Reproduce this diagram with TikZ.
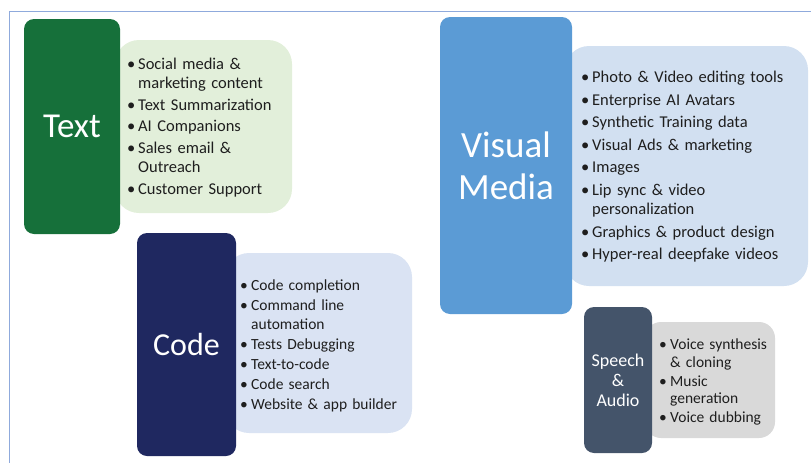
\documentclass[tikz,border=0pt]{standalone}
\usepackage{fontspec}
\setmainfont{Carlito}
\definecolor{frameblue}{RGB}{143,170,220}
\definecolor{textgreen}{RGB}{22,112,58}
\definecolor{textlight}{RGB}{226,239,218}
\definecolor{codenavy}{RGB}{31,40,96}
\definecolor{codelight}{RGB}{218,227,243}
\definecolor{visualblue}{RGB}{91,155,213}
\definecolor{visuallight}{RGB}{210,224,241}
\definecolor{speechslate}{RGB}{68,84,106}
\definecolor{speechgray}{RGB}{217,217,217}
\definecolor{itemgray}{RGB}{30,30,30}
\newcommand{\bul}{\par\noindent\hangindent=11pt\hangafter=1\makebox[11pt][l]{\textbullet}}

\begin{document}
\begin{tikzpicture}[x=1pt,y=-1pt,
  catbox/.style={rounded corners=10pt,inner sep=0pt,text=white,align=center},
  listbox/.style={rounded corners=24pt,inner sep=0pt},
  items/.style={anchor=west,inner sep=0pt,align=left,text=itemgray,
    execute at begin node={\setlength{\parskip}{#1}}}]
\useasboundingbox (0,0) rectangle (811,463);
\draw[frameblue,line width=1pt] (9.5,463)--(9.5,11.5)--(811,11.5);
% Text
\node[listbox,fill=textlight,minimum width=177pt,minimum height=173pt] (textlist) at (203.5,126.5) {};
\node[catbox,fill=textgreen,minimum width=96pt,minimum height=215pt,font=\fontsize{35}{40}\selectfont] (text) at (72,126.5) {Text};
\node[items=2pt,text width=165pt,font=\fontsize{16.5}{19.5}\selectfont] (textitems) at (127,122.5)
  {\bul Social media \&\newline marketing content
   \bul Text Summarization
   \bul AI Companions
   \bul Sales email \&\newline Outreach
   \bul Customer Support};
% Code
\node[listbox,fill=codelight,minimum width=187pt,minimum height=180pt] (codelist) at (318.5,343) {};
\node[catbox,fill=codenavy,minimum width=99pt,minimum height=223pt,font=\fontsize{32}{38}\selectfont] (code) at (186.5,344.5) {Code};
\node[items=1.5pt,text width=170pt,font=\fontsize{15.5}{18.5}\selectfont] (codeitems) at (240,341)
  {\bul Code completion
   \bul Command line\newline automation
   \bul Tests Debugging
   \bul Text-to-code
   \bul Code search
   \bul Website \& app builder};
% Visual Media
\node[listbox,fill=visuallight,minimum width=243pt,minimum height=240pt] (visuallist) at (686.5,166) {};
\node[catbox,fill=visualblue,minimum width=132pt,minimum height=297pt,font=\fontsize{37}{42}\selectfont] (visual) at (506,165.5) {Visual\\Media};
\node[items=3pt,text width=225pt,font=\fontsize{16.5}{19.5}\selectfont] (visualitems) at (581,161.5)
  {\bul Photo \& Video editing tools
   \bul Enterprise AI Avatars
   \bul Synthetic Training data
   \bul Visual Ads \& marketing
   \bul Images
   \bul Lip sync \& video\newline personalization
   \bul Graphics \& product design
   \bul Hyper-real deepfake videos};
% Speech & Audio
\node[listbox,fill=speechgray,rounded corners=16pt,minimum width=130pt,minimum height=116pt] (speechlist) at (710,380) {};
\node[catbox,fill=speechslate,minimum width=68pt,minimum height=146pt,font=\fontsize{18}{20}\selectfont] (speech) at (618,380) {Speech\\\&\\Audio};
\node[items=1.5pt,text width=115pt,font=\fontsize{15.5}{17.5}\selectfont] (speechitems) at (659,378)
  {\bul Voice synthesis\newline \& cloning
   \bul Music\newline generation
   \bul Voice dubbing};
\end{tikzpicture}
\end{document}
